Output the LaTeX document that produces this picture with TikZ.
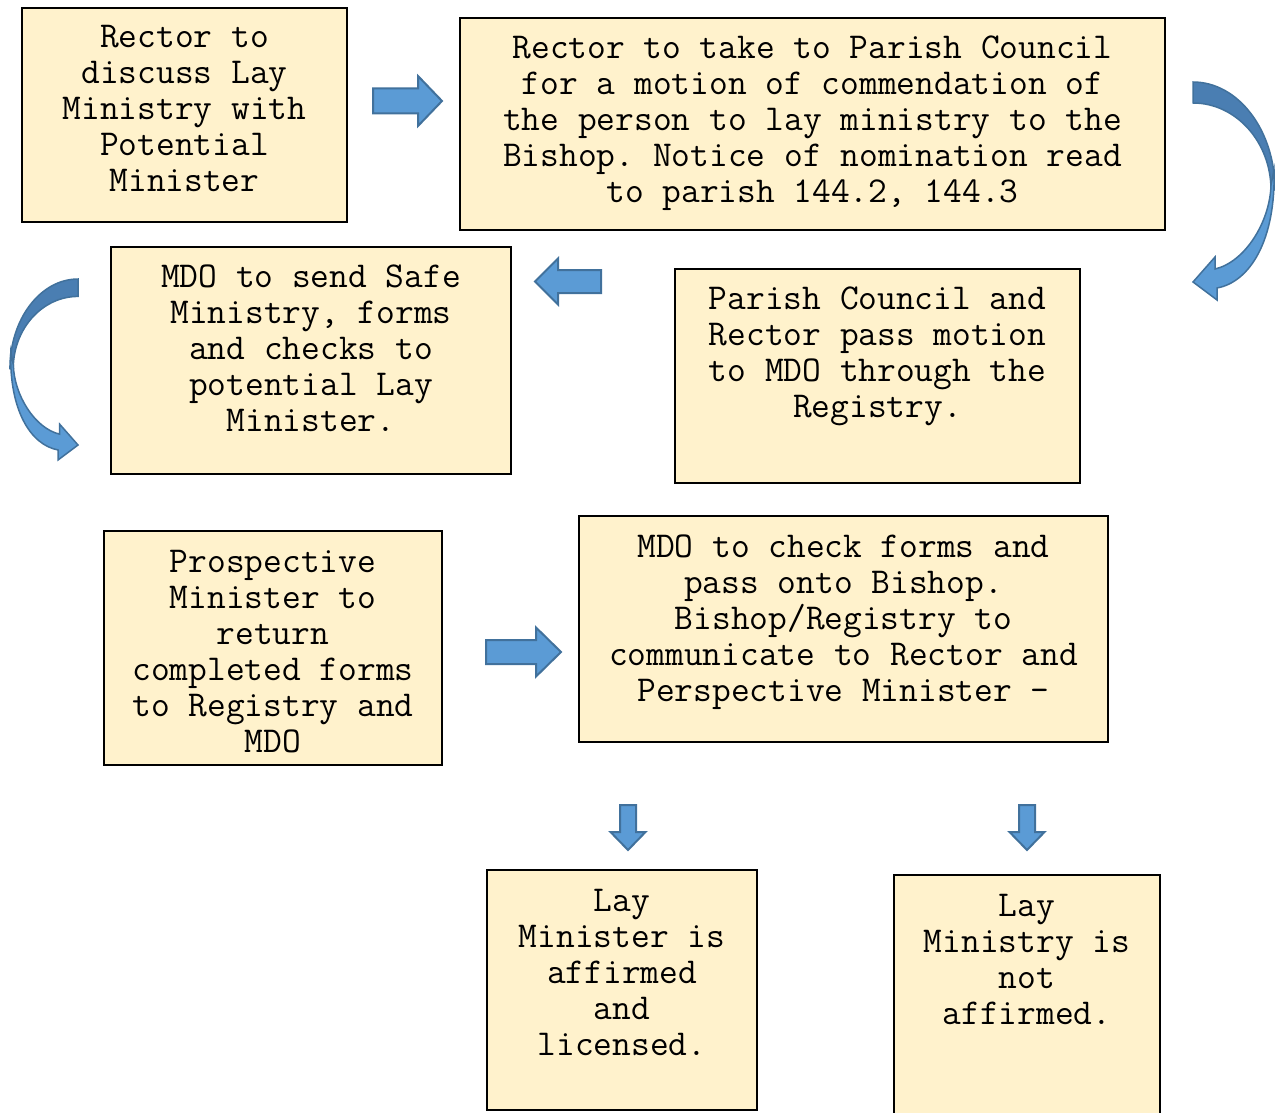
\documentclass[tikz,border=0pt]{standalone}

\definecolor{boxfill}{HTML}{FFF2CC}
\definecolor{arrowfill}{HTML}{5B9BD5}
\definecolor{arrowline}{HTML}{41719C}
\definecolor{arrowback}{HTML}{4A7EB2}

\tikzset{
	stepbox/.style={draw=black, fill=boxfill, line width=2.5pt},
	steptext/.style={font=\ttfamily\fontsize{36.4}{36}\selectfont\frenchspacing,
		align=flush center, text width=720pt, anchor=base, inner sep=0pt},
	arrowshape/.style={draw=arrowline, fill=arrowfill, line width=2pt, line join=miter},
	% straight block arrow: length, half head, half shaft, head length
	pics/blockarrow/.style n args={4}{code={
		\filldraw[arrowshape] (0,-#3) -- (#1-#4,-#3) -- (#1-#4,-#2) -- (#1,0)
			-- (#1-#4,#2) -- (#1-#4,#3) -- (0,#3) -- cycle;
	}},
	% curved block arrow, drawn from its flat top end
	pics/bendarrow/.style={code={
		\filldraw[arrowshape, fill=arrowback, line width=1.5pt] (0,0) .. controls (45,0) and (82,48) .. (82,108)
			-- (78,108) .. controls (78,60) and (43,21) .. (0,21) -- cycle;
		\filldraw[arrowshape, line width=1.5pt] (81,88) .. controls (83,158) and (57,200) .. (24,206)
			-- (24,218) -- (0,200) -- (22,175) -- (22,187)
			.. controls (52,180) and (77,140) .. (78,103) -- cycle;
	}}
}

\begin{document}
\begin{tikzpicture}[x=1pt, y=-1pt]
	\useasboundingbox (0,0) rectangle (1275,1113);

	% boxes
	\filldraw[stepbox] (22,8) rectangle (347,222);
	\filldraw[stepbox] (460,18) rectangle (1165,230);
	\filldraw[stepbox] (111,247) rectangle (511,474);
	\filldraw[stepbox] (675,269) rectangle (1080,483);
	\filldraw[stepbox] (104,531) rectangle (442,765);
	\filldraw[stepbox] (579,516) rectangle (1108,742);
	\filldraw[stepbox] (487,870) rectangle (757,1110);
	\filldraw[stepbox] (894,875) rectangle (1160,1125);

	\node[steptext] (discuss) at (184.5,48) {Rector to\\discuss Lay\\Ministry with\\Potential\\Minister};
	\node[steptext] (council) at (812.5,59) {Rector to take to Parish Council\\for a motion of commendation of\\the person to lay ministry to the\\Bishop. Notice of nomination read\\to parish 144.2, 144.3};
	\node[steptext] (safe) at (311,287) {MDO to send Safe\\Ministry, forms\\and checks to\\potential Lay\\Minister.};
	\node[steptext] (motion) at (877.5,309) {Parish Council and\\Rector pass motion\\to MDO through the\\Registry.};
	\node[steptext] (return) at (273,572) {Prospective\\Minister to\\return\\completed forms\\to Registry and\\MDO};
	\node[steptext] (check) at (843.5,557) {MDO to check forms and\\pass onto Bishop.\\Bishop/Registry to\\communicate to Rector and\\Perspective Minister -};
	\node[steptext] (affirmed) at (622,911) {Lay\\Minister is\\affirmed\\and\\licensed.};
	\node[steptext] (notaffirmed) at (1027,916) {Lay\\Ministry is\\not\\affirmed.};

	% arrows
	\pic at (373,101) {blockarrow={69}{25}{12.5}{24}};
	\pic[rotate=180] at (601,281.5) {blockarrow={66}{23}{11.5}{23}};
	\pic at (486,652) {blockarrow={75}{24.5}{12}{25}};
	\pic[rotate=-90] at (628,805) {blockarrow={45}{17.5}{8}{18}};
	\pic[rotate=-90] at (1027,805) {blockarrow={45}{17.5}{8}{18}};

	\pic at (1193,82) {bendarrow};
	\pic[xscale=-0.83, yscale=0.83] at (78,279) {bendarrow};
\end{tikzpicture}
\end{document}
